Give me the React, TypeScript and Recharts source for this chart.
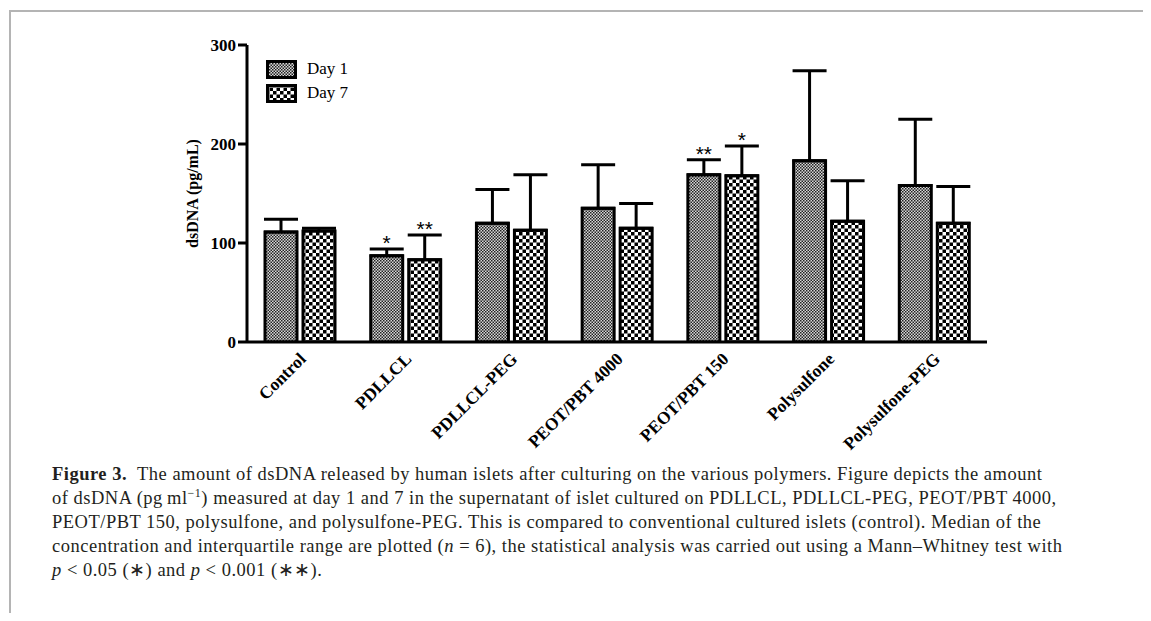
import { BarChart, Bar, XAxis, YAxis, ErrorBar, Legend, LabelList } from 'recharts';

const categories = ['Control', 'PDLLCL', 'PDLLCL-PEG', 'PEOT/PBT 4000', 'PEOT/PBT 150', 'Polysulfone', 'Polysulfone-PEG'];
const day1 = [111, 87, 120, 135, 169, 183, 158];
const day1Upper = [124, 94, 154, 179, 184, 274, 225];
const day7 = [112, 83, 113, 115, 168, 122, 120];
const day7Upper = [115, 108, 169, 140, 198, 163, 157];
const day1Sig = ['', '*', '', '', '**', '', ''];
const day7Sig = ['', '**', '', '', '*', '', ''];
const yTicks = [0, 100, 200, 300];

const captionLines = [
  'The amount of dsDNA released by human islets after culturing on the various polymers. Figure depicts the amount',
  'of dsDNA (pg\u2009ml',
  'PEOT/PBT 150, polysulfone, and polysulfone-PEG. This is compared to conventional cultured islets (control). Median of the',
  'concentration and interquartile range are plotted (',
];

const data = categories.map((name, i) => ({
  name,
  day1: day1[i],
  day7: day7[i],
  err1: [0, day1Upper[i] - day1[i]],
  err7: [0, day7Upper[i] - day7[i]],
  sig1: day1Sig[i],
  sig7: day7Sig[i],
  up1: day1Upper[i],
  up7: day7Upper[i],
}));

const serif = '"Liberation Serif", "Times New Roman", serif';

// stars sit above the top of the error bar, scale taken from the bar itself
const starLabel = (upKey: 'up1' | 'up7', valKey: 'day1' | 'day7', sigKey: 'sig1' | 'sig7') => (props: any) => {
  const { x, y, width, height, index } = props;
  const row = data[index];
  if (!row || !row[sigKey]) return null;
  const pxPerUnit = height / row[valKey];
  const capY = y - (row[upKey] - row[valKey]) * pxPerUnit;
  return (
    <text
      x={x + width / 2}
      y={capY + 1}
      textAnchor="middle"
      fontFamily='"Liberation Sans", Arial, sans-serif'
      fontSize={21}
      fill="#000"
    >
      {row[sigKey]}
    </text>
  );
};

function XTick({ x, y, payload }: any) {
  return (
    <text
      x={x + 7}
      y={y + 10}
      transform={`rotate(-45, ${x + 7}, ${y + 10})`}
      textAnchor="end"
      fontFamily={serif}
      fontWeight="bold"
      fontSize={17.5}
      fill="#000"
    >
      {payload.value}
    </text>
  );
}

function LegendBox({ payload }: any) {
  return (
    <div style={{ fontFamily: serif, fontSize: 17, color: '#000' }}>
      {(payload || []).map((p: any) => (
        <div key={p.value} style={{ display: 'flex', alignItems: 'center', height: 24 }}>
          <svg width={31} height={19} style={{ marginRight: 10 }}>
            <rect
              x={1.5}
              y={1.5}
              width={28}
              height={16}
              fill={p.dataKey === 'day1' ? 'url(#patDay1)' : 'url(#patDay7)'}
              stroke="#000"
              strokeWidth={3}
            />
          </svg>
          <span>{p.value}</span>
        </div>
      ))}
    </div>
  );
}

export default function App() {
  return (
    <div style={{ position: 'relative', width: 1143, height: 605, background: '#fff' }}>
      <div style={{ position: 'absolute', left: 1, top: 2, right: -8, height: 2, background: '#b4b4b4' }} />
      <div style={{ position: 'absolute', left: 1, top: 2, width: 2, bottom: -8, background: '#b4b4b4' }} />

      <div style={{ position: 'absolute', left: 0, top: 0 }}>
        <BarChart
          width={1000}
          height={460}
          data={data}
          margin={{ top: 37, right: 21, bottom: 16, left: 179 }}
          barSize={32}
          barGap={6}
        >
          <defs>
            <pattern id="patDay1" width={3} height={3} patternUnits="userSpaceOnUse">
              <rect width={3} height={3} fill="#d8d8d8" />
              <rect width={1.5} height={1.5} fill="#222" />
              <rect x={1.5} y={1.5} width={1.5} height={1.5} fill="#222" />
            </pattern>
            <pattern id="patDay7" width={7} height={7} patternUnits="userSpaceOnUse">
              <rect width={7} height={7} fill="#fff" />
              <rect width={3.5} height={3.5} fill="#000" />
              <rect x={3.5} y={3.5} width={3.5} height={3.5} fill="#000" />
            </pattern>
          </defs>
          <XAxis
            dataKey="name"
            height={110}
            tickLine={false}
            axisLine={{ stroke: '#000', strokeWidth: 3 }}
            tick={<XTick />}
            interval={0}
          />
          <YAxis
            width={60}
            domain={[0, 300]}
            ticks={yTicks}
            allowDataOverflow
            tickSize={9}
            tickLine={{ stroke: '#000', strokeWidth: 3 }}
            axisLine={{ stroke: '#000', strokeWidth: 3 }}
            tick={{ fill: '#000', fontFamily: serif, fontWeight: 'bold', fontSize: 17 }}
            label={{
              value: 'dsDNA (pg/mL)',
              angle: -90,
              position: 'insideLeft',
              offset: 5,
              style: { textAnchor: 'middle', fontFamily: serif, fontWeight: 'bold', fontSize: 16, fill: '#000' },
            }}
          />
          <Legend
            layout="horizontal"
            verticalAlign="middle"
            align="center"
            wrapperStyle={{ top: 49, left: 258, width: 'auto' }}
            content={<LegendBox />}
          />
          <Bar dataKey="day1" name="Day 1" fill="url(#patDay1)" stroke="#000" strokeWidth={3} isAnimationActive={false}>
            <ErrorBar dataKey="err1" direction="y" width={17} stroke="#000" strokeWidth={3} isAnimationActive={false} />
            <LabelList dataKey="sig1" content={starLabel('up1', 'day1', 'sig1')} />
          </Bar>
          <Bar dataKey="day7" name="Day 7" fill="url(#patDay7)" stroke="#000" strokeWidth={3} isAnimationActive={false}>
            <ErrorBar dataKey="err7" direction="y" width={17} stroke="#000" strokeWidth={3} isAnimationActive={false} />
            <LabelList dataKey="sig7" content={starLabel('up7', 'day7', 'sig7')} />
          </Bar>
        </BarChart>
      </div>

      <div
        style={{
          position: 'absolute',
          left: 44,
          top: 454,
          fontFamily: serif,
          fontSize: 18.5,
          lineHeight: '24px',
          color: '#231f20',
          whiteSpace: 'nowrap',
          letterSpacing: '0.5px',
        }}
      >
        <div>
          <b>Figure 3.</b>&nbsp; {captionLines[0]}
        </div>
        <div>
          {captionLines[1]}
          <sup style={{ fontSize: 12, lineHeight: 0 }}>&minus;1</sup>) measured at day 1 and 7 in the supernatant of islet cultured on PDLLCL, PDLLCL-PEG, PEOT/PBT 4000,
        </div>
        <div>{captionLines[2]}</div>
        <div>
          {captionLines[3]}
          <i>n</i> = 6), the statistical analysis was carried out using a Mann&ndash;Whitney test with
        </div>
        <div>
          <i>p</i> &lt; 0.05 (&lowast;) and <i>p</i> &lt; 0.001 (&lowast;&lowast;).
        </div>
      </div>
    </div>
  );
}
